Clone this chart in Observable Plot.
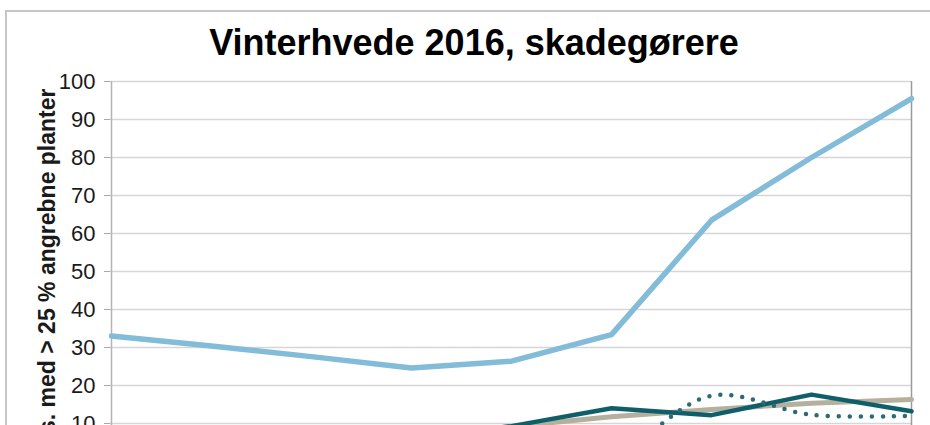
<!DOCTYPE html>
<html>
<head>
<meta charset="utf-8">
<script src="https://cdn.jsdelivr.net/npm/d3@7"></script>
<script src="https://cdn.jsdelivr.net/npm/@observablehq/plot@0.6"></script>
<style>
  html, body { margin: 0; padding: 0; overflow: hidden; background: #fff; width: 930px; height: 425px; }
  #frame { position: absolute; left: 5px; top: 10px; width: 1000px; height: 600px;
           border-top: 2px solid #c6c6c6; border-left: 2px solid #c6c6c6; }
  #title { position: absolute; left: 0; top: 25px; width: 948px; text-align: center;
           font: bold 36px/36px "Liberation Sans", Arial, sans-serif; color: #000; }
  #chart { position: absolute; left: 0; top: 60px; }
</style>
</head>
<body>
<div id="frame"></div>
<div id="title">Vinterhvede 2016, skadegørere</div>
<div id="chart"></div>
<script>
// Observation points along the season (x-axis labels are outside the visible crop)
const categories = ["1", "2", "3", "4", "5", "6", "7", "8", "9"];
// Series values (% fields with > 25 % attacked plants)
const serieLyseblaa = [33.0, 30.4, 27.6, 24.6, 26.4, 33.4, 63.5, 80.0, 95.5];
const serieMoerk    = [3.0, 4.0, 5.0, 6.0, 9.3, 14.0, 12.2, 17.6, 13.2];
const serieBeige    = [4.0, 5.0, 6.0, 7.0, 9.2, 11.8, 13.7, 15.3, 16.3];
const seriePrikket  = [0.0, 0.0, 0.0, 0.0, 0.0, 1.5, 17.3, 12.3, 12.0];
const yTicks = [0, 10, 20, 30, 40, 50, 60, 70, 80, 90, 100];
const yLabel = "s. med > 25 % angrebne planter";

const rows = (vals, serie) => categories.map((c, i) => ({ x: c, y: vals[i], serie }));
const dataA = rows(serieLyseblaa, "A");
const dataB = rows(serieMoerk, "B");
const dataC = rows(serieBeige, "C");
const dataD = rows(seriePrikket, "D");

const chart = Plot.plot({
  width: 930,
  height: 440,
  marginTop: 21,
  marginLeft: 110,
  marginRight: 19,
  marginBottom: 39,
  style: { fontFamily: "'Liberation Sans', Arial, sans-serif", background: "transparent", overflow: "visible" },
  x: { type: "point", domain: categories, padding: 0, axis: null },
  y: { domain: [0, 100], axis: null },
  marks: [
    Plot.ruleY(yTicks.filter(d => d > 0), { stroke: "#d6d6d6", strokeWidth: 1.5 }),
    Plot.ruleX([categories[0]], { stroke: "#b4b4b4", strokeWidth: 1.5 }),
    Plot.ruleX([categories[categories.length - 1]], { stroke: "#9a9a9a", strokeWidth: 1.5 }),
    Plot.axisY({ ticks: yTicks.filter(d => d > 0), tickSize: 6, tickPadding: 9, fontSize: 22,
                 stroke: "#a8a8a8", fill: "#1a1a1a", label: null, tickFormat: d => String(d) }),
    Plot.line(dataA, { x: "x", y: "y", stroke: "#82bcd8", strokeWidth: 5.5, strokeLinejoin: "round" }),
    Plot.line(dataC, { x: "x", y: "y", stroke: "#b5b09e", strokeWidth: 5, strokeLinejoin: "round" }),
    Plot.line(dataB, { x: "x", y: "y", stroke: "#0f5f6b", strokeWidth: 4.5, strokeLinejoin: "round" }),
    Plot.line(dataD, { x: "x", y: "y", stroke: "#2a6a73", strokeWidth: 4.5, curve: "catmull-rom",
                       strokeDasharray: "0,11", strokeLinecap: "round" }),
    Plot.text([yLabel], { text: d => d, frameAnchor: "top-left", dx: -72, dy: 7, rotate: -90,
                          textAnchor: "end", fontSize: 23, fontWeight: "bold", fill: "#1a1a1a" })
  ]
});

document.getElementById("chart").appendChild(chart);
</script>
</body>
</html>
